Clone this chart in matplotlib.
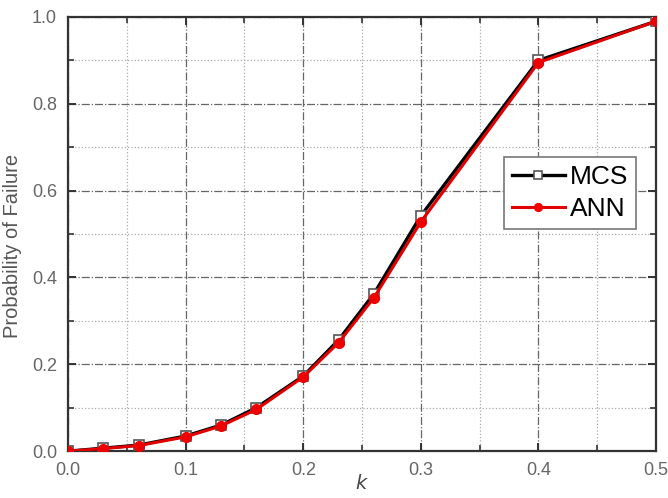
import matplotlib.pyplot as plt
from matplotlib.ticker import MultipleLocator

plt.rcParams['font.family'] = ['Liberation Sans', 'DejaVu Sans']

# k values and probabilities of failure
k = [0.0, 0.03, 0.06, 0.10, 0.13, 0.16, 0.20, 0.23, 0.26, 0.30, 0.40, 0.50]
mcs = [0.0, 0.007, 0.014, 0.035, 0.060, 0.100, 0.173, 0.256, 0.362, 0.542, 0.900, 0.990]
ann = [0.0, 0.006, 0.013, 0.033, 0.058, 0.096, 0.171, 0.250, 0.353, 0.528, 0.895, 0.990]

fig = plt.figure(figsize=(6.68, 4.98), dpi=100)
ax = fig.add_axes([0.102, 0.094, 0.880, 0.872])

ax.plot(k, mcs, color='black', lw=2.4, marker='s', ms=7, mfc='white',
        mec='#555555', mew=1.2, label='MCS', zorder=3)
ax.plot(k, ann, color='#e00000', lw=2.2, marker='o', ms=7, mfc='#ee0000',
        mec='#ee0000', label='ANN', zorder=4)

ax.set_xlim(0, 0.5)
ax.set_ylim(0, 1.0)
ax.xaxis.set_major_locator(MultipleLocator(0.1))
ax.xaxis.set_minor_locator(MultipleLocator(0.05))
ax.yaxis.set_major_locator(MultipleLocator(0.2))
ax.yaxis.set_minor_locator(MultipleLocator(0.1))

ax.grid(which='major', color='#666666', ls='-.', lw=0.9)
ax.grid(which='minor', color='#aaaaaa', ls=':', lw=0.9)

ax.tick_params(which='both', direction='in', top=True, right=True,
               colors='#333333', labelcolor='#666666', labelsize=13)
ax.tick_params(which='major', length=6, width=1.4, pad=8)
ax.tick_params(which='minor', length=4, width=1.2)
for s in ax.spines.values():
    s.set_color('#333333')
    s.set_linewidth(1.6)

ax.set_ylabel('Probability of Failure', fontsize=14.5, color='#555555')
ax.yaxis.set_label_coords(-0.079, 0.472)
ax.set_xlabel('$k$', fontsize=14, color='#444444')
ax.xaxis.set_label_coords(0.5, -0.052)

leg = ax.legend(loc='center', bbox_to_anchor=(0.854, 0.594), fontsize=19,
                handlelength=2.0, handletextpad=0.2, borderpad=0.3,
                labelspacing=0.3, fancybox=False, framealpha=1,
                markerscale=0.8)
leg.get_frame().set_edgecolor('#777777')
leg.get_frame().set_linewidth(1.2)

fig.savefig('out.png', dpi=100)
